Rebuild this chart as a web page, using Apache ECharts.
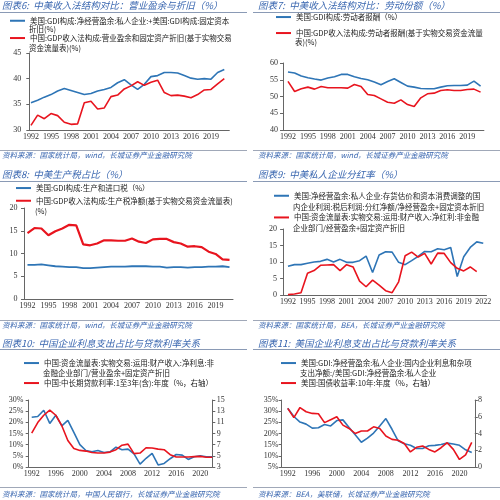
<!DOCTYPE html>
<html><head><meta charset="utf-8">
<script src="https://cdn.jsdelivr.net/npm/echarts@6.0.0/dist/echarts.min.js"></script>
<style>html,body{margin:0;padding:0;background:#fff}#c{width:500px;height:500px}</style>
</head><body><div id="c"></div>
<script>
// ---------- data ----------
const yearsA = [1992,1993,1994,1995,1996,1997,1998,1999,2000,2001,2002,2003,2004,2005,2006,2007,2008,2009,2010,2011,2012,2013,2014,2015,2016,2017,2018,2019,2020,2021];
const yearsB = [1992,1993,1994,1995,1996,1997,1998,1999,2000,2001,2002,2003,2004,2005,2006,2007,2008,2009,2010,2011,2012,2013,2014,2015,2016,2017,2018,2019,2020,2021,2022];

const us6 = [35.3,35.8,36.4,36.9,37.6,38.1,37.7,37.3,36.9,37.1,37.6,37.9,38.3,39.2,39.8,38.8,37.9,38.9,40.4,40.6,41.2,41.2,41.1,40.6,40.1,39.9,40.0,39.9,41.2,41.8];
const cn6 = [30.9,32.9,32.2,33.2,32.8,31.5,31.1,31.2,35.3,35.6,34.1,34.3,36.5,36.8,38.0,38.6,39.4,38.7,39.3,39.7,37.3,36.7,36.8,36.6,36.3,36.9,37.8,37.9,39.0,40.0];

const us7 = [57.3,57.0,56.1,55.6,55.2,54.9,55.5,55.9,56.6,56.6,55.9,55.4,55.0,54.3,53.5,54.5,55.3,54.2,53.1,52.8,52.4,52.3,52.3,52.8,53.2,53.3,53.3,53.4,54.6,53.1];
const cn7 = [54.5,51.5,52.3,52.8,52.2,53.0,52.6,52.6,52.6,52.5,53.6,53.0,50.6,50.3,49.3,48.3,48.0,49.0,47.6,47.0,49.6,50.8,51.0,51.8,52.0,51.8,51.8,52.1,52.2,51.3];

const us8 = [7.5,7.5,7.6,7.4,7.2,7.1,7.0,7.0,6.8,6.8,6.9,7.0,7.1,7.1,7.1,7.2,7.2,7.2,7.1,7.1,6.9,7.0,7.0,6.9,7.0,7.0,7.1,7.1,7.2,7.0];
const cn8 = [14.5,15.6,15.5,14.0,14.9,15.5,16.3,16.2,12.0,11.8,12.2,12.9,12.9,12.8,12.8,13.3,12.6,12.3,13.1,13.2,13.2,12.5,12.2,11.5,11.6,11.4,10.4,9.9,8.7,8.6];

const us9 = [8.7,9.2,9.2,9.6,10.0,10.2,10.8,10.0,10.8,9.9,9.9,10.4,11.8,6.8,12.1,13.1,13.0,9.9,9.2,10.4,11.7,13.2,13.1,14.0,13.7,14.4,5.6,11.6,14.4,16.1,15.7];
const cn9 = [0.1,0.3,0.7,6.6,7.4,9.0,9.1,9.2,7.4,9.2,8.5,4.2,2.5,4.5,3.0,1.3,0.7,4.0,11.9,13.0,11.5,12.6,9.4,12.7,12.6,9.8,8.1,7.3,8.5,7.1,null];

const cn10Interest = [22.3,22.6,25.4,19.5,23.2,18.4,20.9,15.5,10.0,7.4,6.8,7.4,6.5,6.8,8.9,7.7,8.0,5.9,1.3,3.9,6.1,0.9,1.6,3.7,5.6,5.3,3.4,4.6,5.0,4.6,4.6];
const cn10Loan = [9.06,10.96,12.27,13.2,12.27,10.4,7.75,6.3,5.97,5.85,5.6,5.5,5.5,5.67,6.1,6.9,7.1,5.4,5.5,6.45,6.4,6.2,6.1,5.2,4.8,4.8,4.8,4.85,4.9,4.75,4.75];

const us11Interest = [31.3,27.6,25.1,24.2,22.4,22.6,24.0,23.4,25.8,26.1,22.7,19.4,16.1,17.9,20.2,23.4,26.7,21.9,16.7,15.4,14.7,13.3,13.3,14.5,14.7,15.1,15.7,15.3,14.7,12.7,11.5];
const us11Yield = [7.0,5.9,7.1,6.6,6.4,6.35,5.3,5.65,6.0,5.0,4.6,4.0,4.3,4.3,4.8,4.6,3.7,3.3,3.2,2.8,1.8,2.35,2.5,2.1,1.8,2.3,2.9,2.1,0.9,1.45,2.95];

const titles = [
  '图表6:  中美收入法结构对比：营业盈余与折旧（%）',
  '图表7:  中美收入法结构对比：劳动份额（%）',
  '图表8:  中美生产税占比（%）',
  '图表9:  中美私人企业分红率（%）',
  '图表10:  中国企业利息支出占比与贷款利率关系',
  '图表11:  美国企业利息支出占比与贷款利率关系'
];
const sources = [
  '资料来源：国家统计局，wind，长城证券产业金融研究院',
  '资料来源：国家统计局，wind，长城证券产业金融研究院',
  '资料来源：国家统计局，wind，长城证券产业金融研究院',
  '资料来源：国家统计局，BEA，长城证券产业金融研究院',
  '资料来源：国家统计局，中国人民银行，长城证券产业金融研究院',
  '资料来源：BEA，美联储，长城证券产业金融研究院'
];
const names = [
  ['美国:GDI构成:净经营盈余:私人企业:+美国:GDI构成:固定资本\n折旧(%)', '中国:GDP收入法构成:营业盈余和固定资产折旧(基于实物交易\n资金流量表)(%)'],
  ['美国:GDI构成:劳动者报酬（%）', '中国:GDP收入法构成:劳动者报酬(基于实物交易资金流量\n表)(%)'],
  ['美国:GDI构成:生产和进口税（%）', '中国:GDP收入法构成:生产税净额(基于实物交易资金流量表)\n(%)'],
  ['美国:净经营盈余:私人企业:存货估价和资本消费调整的国\n内企业利润:税后利润:分红净额/净经营盈余+固定资本折旧', '中国:资金流量表:实物交易:运用:财产收入:净红利:非金融\n企业部门/经营盈余+固定资产折旧'],
  ['中国:资金流量表:实物交易:运用:财产收入:净利息:非\n金融企业部门/营业盈余+固定资产折旧', '中国:中长期贷款利率:1至3年(含):年度（%，右轴）'],
  ['美国:GDI:净经营盈余:私人企业:国内企业利息和杂项\n支出净额:/美国:GDI:净经营盈余:私人企业', '美国:国债收益率:10年:年度（%，右轴）']
];

// ---------- styles ----------
const BLUE = '#2E75B6', RED = '#E8141E', TCOL = '#3A67B0', AX = '#666', LTXT = '#222';
const CJK = '"Noto Sans CJK SC", sans-serif';
const NUM = '"Liberation Serif", "DejaVu Serif", serif';

function pairs(xs, ys) { return xs.map((x, i) => [x, ys[i]]); }

const layout = [
  {grid:{left:29.3, top:53, width:200, height:77}, xmin:1991.75, xmax:2021.75, step:3},
  {grid:{left:283, top:63, width:200.9, height:67}, xmin:1991.25, xmax:2021.5, step:3},
  {grid:{left:24, top:208, width:209, height:91}, xmin:1991.5, xmax:2021.5, step:3},
  {grid:{left:283.1, top:229, width:203.4, height:66}, xmin:1991.25, xmax:2022.5, step:3},
  {grid:{left:28.7, top:400, width:183.6, height:67}, xmin:1991.5, xmax:2022, step:4},
  {grid:{left:281.6, top:400, width:193.2, height:67}, xmin:1991, xmax:2022.5, step:4}
];

const grid = layout.map(l => Object.assign({containLabel:false}, l.grid));
const xAxis = layout.map((l, i) => ({
  type:'value', gridIndex:i, min:l.xmin, max:l.xmax, interval:0.25,
  splitLine:{show:false}, axisTick:{show:false},
  axisLine:{show:true, onZero:false, lineStyle:{color:AX, width:1}},
  axisLabel:{margin:3, fontSize:8, fontFamily:NUM, color:'#333', hideOverlap:false,
    formatter: v => { const r = Math.round(v); return (Math.abs(v - r) < 1e-6 && r % l.step === 0) ? String(r) : ''; }}
}));

function yA(gi, min, max, interval, margin, pos, fmt) {
  return {type:'value', gridIndex:gi, position:pos, min, max, interval,
    splitLine:{show:false},
    axisLine:{show:true, onZero:false, lineStyle:{color:AX, width:1}},
    axisTick:{show:true, length:3, lineStyle:{color:AX}},
    axisLabel:{margin, fontSize:8, fontFamily:NUM, color:'#333', formatter:fmt || '{value}'}};
}
const yAxis = [
  yA(0, 30, 45, 5, 8, 'left'),
  yA(1, 40, 60, 5, 5, 'left'),
  yA(2, 0, 20, 5, 6.5, 'left'),
  yA(3, 0, 20, 5, 6, 'left'),
  yA(4, 0, 30, 5, 5.4, 'left', '{value}%'),
  yA(4, 3, 15, 2, 4.4, 'right'),
  yA(5, 5, 35, 5, 3.3, 'left', '{value}%'),
  yA(5, 0, 8, 2, 3.2, 'right')
];

function ln(name, gi, yi, xs, ys, color, width) {
  return {type:'line', name, xAxisIndex:gi, yAxisIndex:yi, data:pairs(xs, ys),
    symbol:'none', showSymbol:false, connectNulls:false, animation:false, color,
    lineStyle:{color, width}, itemStyle:{color}};
}
const series = [
  ln(names[0][0], 0, 0, yearsA, us6, BLUE, 1.6),
  ln(names[0][1], 0, 0, yearsA, cn6, RED, 1.6),
  ln(names[1][0], 1, 1, yearsA, us7, BLUE, 1.6),
  ln(names[1][1], 1, 1, yearsA, cn7, RED, 1.6),
  ln(names[2][0], 2, 2, yearsA, us8, BLUE, 1.8),
  ln(names[2][1], 2, 2, yearsA, cn8, RED, 2.2),
  ln(names[3][0], 3, 3, yearsB, us9, BLUE, 1.6),
  ln(names[3][1], 3, 3, yearsB, cn9, RED, 1.6),
  ln(names[4][0], 4, 4, yearsB, cn10Interest, BLUE, 1.6),
  ln(names[4][1], 4, 5, yearsB, cn10Loan, RED, 1.6),
  ln(names[5][0], 5, 6, yearsB, us11Interest, BLUE, 1.6),
  ln(names[5][1], 5, 7, yearsB, us11Yield, RED, 1.6)
];

// legend: [panel, item, textLeft, iconY, lineHeight]
const legPos = [
  [0,0, 29, 21, 8.5],  [0,1, 29, 38.3, 10],
  [1,0, 295, 17.3, 9], [1,1, 295, 33.3, 9],
  [2,0, 35, 188.3, 10], [2,1, 35, 201, 10],
  [3,0, 293, 196, 10.7], [3,1, 293, 217.7, 10.7],
  [4,0, 43, 363.3, 9.4], [4,1, 43, 383.3, 9.4],
  [5,0, 300, 363.3, 10], [5,1, 300, 383.3, 10]
];
const IW = 15, IH = 8;
const legend = [];
const title = [];
legPos.forEach(p => {
  const name = names[p[0]][p[1]];
  const lines = name.split('\n');
  legend.push({data:[name], left:p[2] - 5 - IW, top:p[3] - IH / 2, padding:0, itemWidth:IW, itemHeight:IH,
    selectedMode:false,
    itemStyle:{color:'rgba(0,0,0,0)', borderColor:'rgba(0,0,0,0)', borderWidth:0},
    formatter: nm => nm.split('\n')[0],
    textStyle:{fontSize:7.5, fontFamily:CJK, color:LTXT}});
  if (lines.length > 1) {
    title.push({text:lines.slice(1).join('\n'), left:p[2], top:p[3] + p[4] - 4, padding:0,
      textStyle:{fontSize:7.5, fontFamily:CJK, color:LTXT, fontWeight:'normal', lineHeight:8}});
  }
});

const tPos = [[2,0],[258,0],[2,169.5],[258,169.5],[2,338],[258,338]];
const sPos = [[2,151],[258,151],[2,321],[258,321],[2,490],[258,490]];
titles.forEach((t, i) => title.push({text:t, left:tPos[i][0], top:tPos[i][1], padding:0,
  textStyle:{fontSize:9.5, fontStyle:'italic', fontWeight:'normal', color:TCOL, fontFamily:CJK, lineHeight:10}}));
sources.forEach((t, i) => title.push({text:t, left:sPos[i][0], top:sPos[i][1], padding:0,
  textStyle:{fontSize:7.5, fontStyle:'italic', fontWeight:'normal', color:TCOL, fontFamily:CJK, lineHeight:8}}));

const graphic = [];
[12.5, 181.5, 349.5].forEach(y => {
  graphic.push({type:'line', shape:{x1:0, y1:y, x2:247, y2:y}, style:{stroke:'#8a9ab5', lineWidth:1}});
  graphic.push({type:'line', shape:{x1:253, y1:y, x2:500, y2:y}, style:{stroke:'#8a9ab5', lineWidth:1}});
});
[150.5, 320.5, 487.5].forEach(y => {
  graphic.push({type:'line', shape:{x1:0, y1:y, x2:247, y2:y}, style:{stroke:'#a0a8b8', lineWidth:1}});
  graphic.push({type:'line', shape:{x1:253, y1:y, x2:500, y2:y}, style:{stroke:'#a0a8b8', lineWidth:1}});
});

const chart = echarts.init(document.getElementById('c'), null, {renderer:'canvas'});
chart.setOption({animation:false, backgroundColor:'#fff', title, legend, grid, xAxis, yAxis, series, graphic});
</script>
</body></html>
